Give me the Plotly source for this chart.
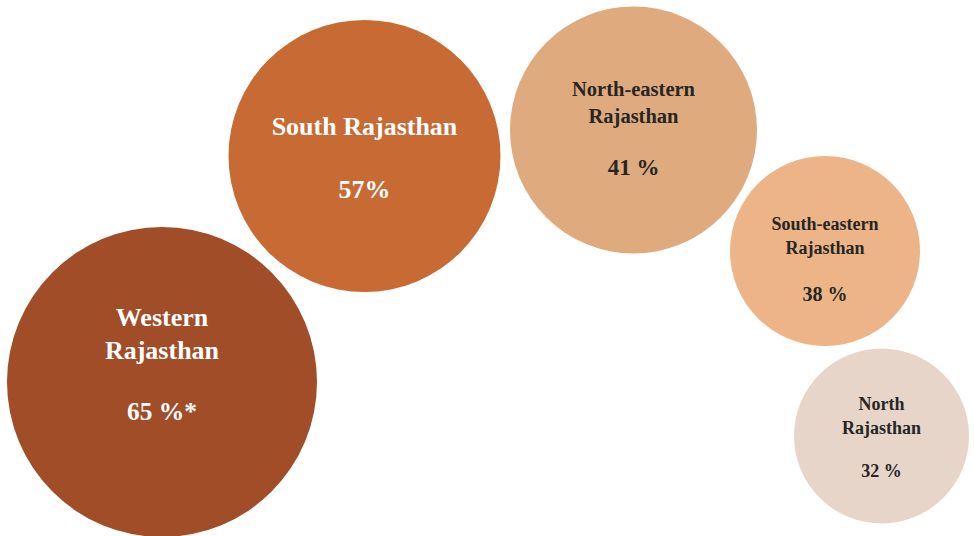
import plotly.graph_objects as go

regions = ["Western<br>Rajasthan", "South Rajasthan", "North-eastern<br>Rajasthan",
           "South-eastern<br>Rajasthan", "North<br>Rajasthan"]
value_labels = ["65 %*", "57%", "41 %", "38 %", "32 %"]
values = [65, 57, 41, 38, 32]

# bubble layout (pixel space of the 974x536 canvas)
bubble_x = [162, 364.5, 633.5, 825, 881.5]
bubble_y = [382, 156, 130, 251, 436]
bubble_diam = [310, 272, 247, 190, 175]
name_y = [336, 128.5, 104.5, 237.5, 417.5]
value_y = [413.5, 191.5, 169.5, 295.5, 472.5]

colors = ["#A04D28", "#C86A33", "#E0AA7F", "#ECB487", "#E6D5C8"]
text_colors = ["#FFFFFF", "#FFFFFF", "#262626", "#262626", "#262626"]
name_sizes = [26, 26, 20.5, 18, 18]
value_sizes = [25.5, 26, 23, 20, 18]

fig = go.Figure()
fig.add_trace(go.Scatter(
    x=bubble_x, y=bubble_y, mode="markers",
    marker=dict(size=bubble_diam, sizemode="diameter", sizeref=1,
                color=colors, opacity=1, line=dict(width=0)),
    customdata=values, hoverinfo="skip", showlegend=False))
fig.add_trace(go.Scatter(
    x=bubble_x, y=name_y, mode="text",
    text=["<b>" + t + "</b>" for t in regions], textposition="middle center",
    textfont=dict(family="Liberation Serif", size=name_sizes, color=text_colors),
    hoverinfo="skip", showlegend=False))
fig.add_trace(go.Scatter(
    x=bubble_x, y=value_y, mode="text",
    text=["<b>" + t + "</b>" for t in value_labels], textposition="middle center",
    textfont=dict(family="Liberation Serif", size=value_sizes, color=text_colors),
    hoverinfo="skip", showlegend=False))

fig.update_layout(
    width=974, height=536, margin=dict(l=0, r=0, t=0, b=0),
    paper_bgcolor="white", plot_bgcolor="white",
    xaxis=dict(range=[0, 974], visible=False, fixedrange=True),
    yaxis=dict(range=[536, 0], visible=False, fixedrange=True),
)
fig.write_html("out.html", config={"displayModeBar": False},
               post_script="document.body.style.margin='0';")
